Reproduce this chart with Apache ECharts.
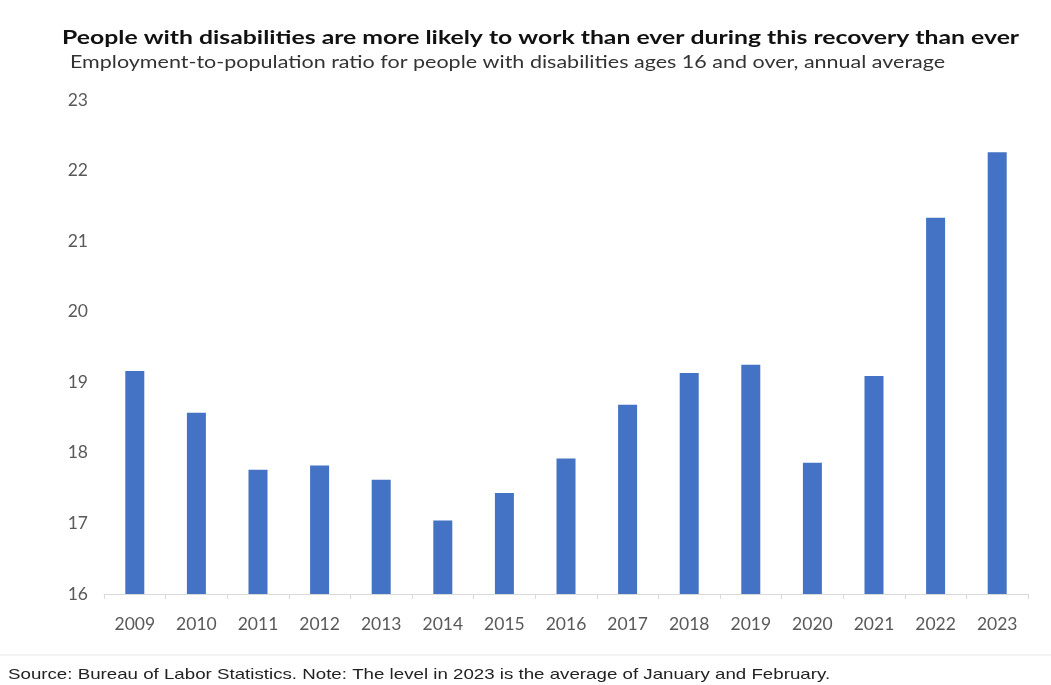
<!DOCTYPE html>
<html>
<head>
<meta charset="utf-8">
<script src="https://cdn.jsdelivr.net/npm/echarts@6/dist/echarts.min.js"></script>
<style>
  html, body { margin: 0; padding: 0; background: #fff; }
  #chart { width: 1051px; height: 685px; }
</style>
</head>
<body>
<div id="chart"></div>
<script>
var years = ['2009', '2010', '2011', '2012', '2013', '2014', '2015', '2016',
             '2017', '2018', '2019', '2020', '2021', '2022', '2023'];
var ratio = [19.16, 18.57, 17.76, 17.82, 17.62, 17.04, 17.43, 17.92,
             18.68, 19.13, 19.25, 17.86, 19.09, 21.33, 22.26];
var yTicks = [16, 23, 1]; // min, max, step

var titleText = 'People with disabilities are more likely to work than ever during this recovery than ever';
var subText = 'Employment-to-population ratio for people with disabilities ages 16 and over, annual average';
var sourceText = 'Source: Bureau of Labor Statistics. Note: The level in 2023 is the average of January and February.';

var chart = echarts.init(document.getElementById('chart'));
var option = {
    animation: false,
    // the original text is set in a narrow face stretched wide, so scale it
    graphic: [
        {
            type: 'text', x: 62, y: 38, scaleX: 1.27,
            style: { text: titleText, fontFamily: 'Lato', fontSize: 19.5, fontWeight: 'bold',
                     fill: '#111', textVerticalAlign: 'middle' }
        },
        {
            type: 'text', x: 70, y: 63, scaleX: 1.265,
            style: { text: subText, fontFamily: 'Lato', fontSize: 17,
                     fill: '#333', textVerticalAlign: 'middle' }
        },
        {
            type: 'line',
            shape: { x1: 0, y1: 655, x2: 1051, y2: 655 },
            style: { stroke: '#e6e6e6', lineWidth: 1 }
        },
        {
            type: 'text', x: 8, y: 675, scaleX: 1.247,
            style: { text: sourceText, fontFamily: 'Liberation Sans', fontSize: 15,
                     fill: '#222', textVerticalAlign: 'middle' }
        }
    ],
    grid: { left: 104, right: 23, top: 100, bottom: 91 },
    xAxis: {
        type: 'category',
        data: years,
        axisLine: { lineStyle: { color: '#d9d9d9' } },
        axisTick: { show: true, length: 5, lineStyle: { color: '#d9d9d9' } },
        axisLabel: { color: '#595959', fontFamily: 'Lato', fontSize: 17.5, margin: 21 }
    },
    yAxis: {
        type: 'value',
        min: yTicks[0],
        max: yTicks[1],
        interval: yTicks[2],
        splitLine: { show: false },
        axisLine: { show: false },
        axisTick: { show: false },
        axisLabel: { color: '#595959', fontFamily: 'Lato', fontSize: 17.5, margin: 16 }
    },
    series: [{
        type: 'bar',
        data: ratio,
        barWidth: 19,
        itemStyle: { color: '#4472c4' }
    }]
};
chart.setOption(option);
</script>
</body>
</html>
